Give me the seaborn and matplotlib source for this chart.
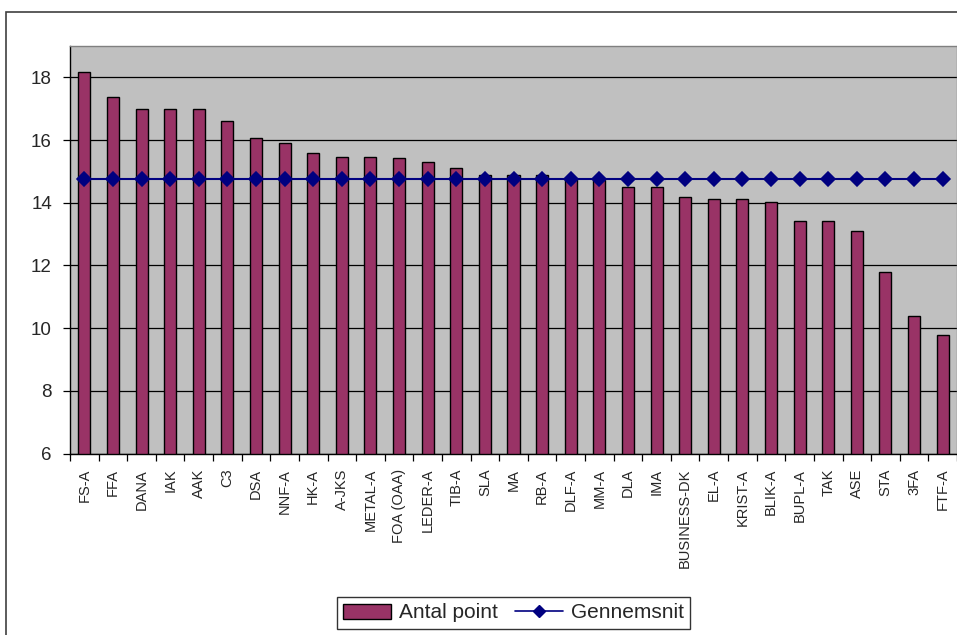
import pandas as pd
import matplotlib.pyplot as plt
import seaborn as sns
from matplotlib.patches import Rectangle, Patch
from matplotlib.lines import Line2D

# A-kasser and their points
kasser = ['FS-A', 'FFA', 'DANA', 'IAK', 'AAK', 'C3', 'DSA', 'NNF-A', 'HK-A', 'A-JKS',
          'METAL-A', 'FOA (OAA)', 'LEDER-A', 'TIB-A', 'SLA', 'MA', 'RB-A', 'DLF-A',
          'MM-A', 'DLA', 'IMA', 'BUSINESS-DK', 'EL-A', 'KRIST-A', 'BLIK-A', 'BUPL-A',
          'TAK', 'ASE', 'STA', '3FA', 'FTF-A']
antal_point = [18.17, 17.36, 17.0, 17.0, 17.0, 16.6, 16.06, 15.9, 15.58, 15.47,
               15.47, 15.42, 15.3, 15.1, 14.88, 14.88, 14.88, 14.75, 14.72, 14.5,
               14.5, 14.18, 14.12, 14.12, 14.01, 13.42, 13.42, 13.1, 11.8, 10.39, 9.79]
gennemsnit = [14.77] * len(kasser)

df = pd.DataFrame({'kasse': kasser, 'point': antal_point, 'snit': gennemsnit})

sns.set_style('white')
plt.rcParams['font.family'] = ['Liberation Sans', 'DejaVu Sans']

fig = plt.figure(figsize=(9.57, 6.35), dpi=100)
ax = fig.add_axes([70 / 957, 1 - 453.5 / 635, 887 / 957, (453.5 - 46) / 635])
ax.set_facecolor('#C0C0C0')

# horizontal gridlines
ax.set_axisbelow(True)
ax.yaxis.grid(True, color='black', linewidth=0.9)

sns.barplot(data=df, x='kasse', y='point', color='#993366', saturation=1,
            edgecolor='black', linewidth=1, width=0.42, ax=ax)
sns.pointplot(data=df, x='kasse', y='snit', color='#000080', marker='D',
              markersize=7, linewidth=1.5, ax=ax)

ax.set_ylim(6, 19)
ax.set_xlim(-0.5, len(kasser) - 0.5)
ax.set_yticks(range(6, 19, 2))
ax.set_xlabel('')
ax.set_ylabel('')

# Excel style tick marks between categories
ax.set_xticks([i + 0.5 for i in range(-1, len(kasser))], minor=True)
ax.tick_params(axis='x', which='major', length=0, pad=11, labelsize=10.5,
               labelrotation=90)
ax.tick_params(axis='x', which='minor', length=5, color='black', width=0.9,
               direction='out', bottom=True)
ax.tick_params(axis='y', length=5, color='black', width=0.9, direction='out',
               left=True, labelsize=13.5, pad=8)

for s in ['left', 'bottom']:
    ax.spines[s].set_color('black')
    ax.spines[s].set_linewidth(1)
for s in ['top', 'right']:
    ax.spines[s].set_color('#808080')
    ax.spines[s].set_linewidth(1)

# outer chart border
fig.add_artist(Rectangle((6 / 957, -0.05), 1.0, 1 - 12 / 635 + 0.05,
                         transform=fig.transFigure, fill=False,
                         edgecolor='#404040', linewidth=1.2))

handles = [Patch(facecolor='#993366', edgecolor='black', linewidth=1),
           Line2D([], [], color='#000080', marker='D', markersize=6, linewidth=1.2)]
leg = fig.legend(handles, ['Antal point', 'Gennemsnit'], loc='center',
                 bbox_to_anchor=(513.5 / 957, 1 - 613 / 635), ncol=2,
                 fontsize=15, frameon=True, fancybox=False, handlelength=2.3,
                 handletextpad=0.4, columnspacing=0.8, borderpad=0.3)
leg.get_frame().set_edgecolor('black')
leg.get_frame().set_linewidth(1)

fig.savefig('out.png', dpi=100)
